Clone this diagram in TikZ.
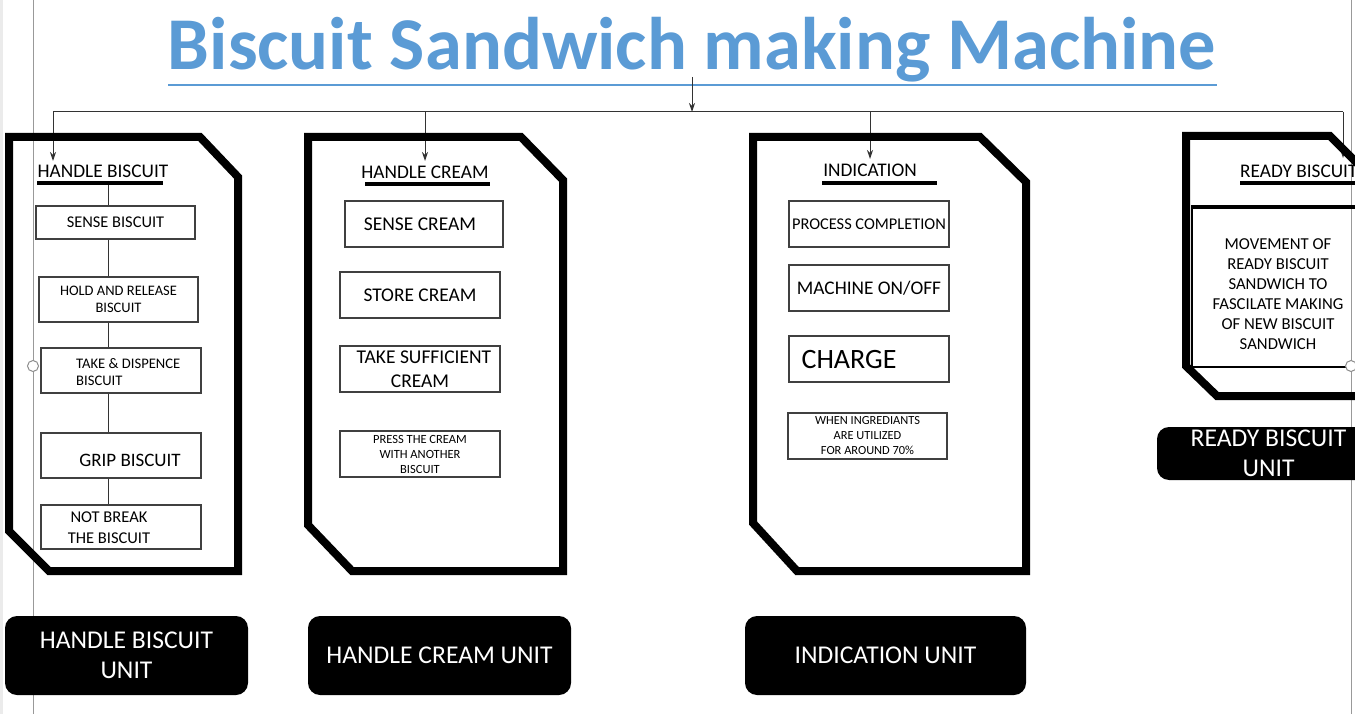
\documentclass[tikz,border=0pt]{standalone}
\usepackage{fontspec}
\setmainfont{Carlito}
\usetikzlibrary{arrows.meta}
\definecolor{titleblue}{HTML}{5B9BD5}
\begin{document}
\begin{tikzpicture}[
  x=1pt, y=-1pt,
  frame/.style={line width=8pt, black, line join=miter},
  stepbox/.style={draw=black!75, line width=1.2pt, inner sep=0pt, align=center},
  hdr/.style={font=\fontsize{19.3}{21}\selectfont, inner sep=0pt},
  hdrline/.style={line width=4pt, black},
  unitlbl/.style={fill=black, text=white, rounded corners=12pt, align=center, inner sep=0pt, font=\fontsize{25.6}{30}\selectfont},
  link/.style={black!80, line width=1pt},
  pageline/.style={black!40, line width=0.8pt},
  ttl/.style={font=\fontsize{74.5}{80}\selectfont\bfseries, inner sep=0pt},
  >={Stealth[length=9pt,width=6pt]}
]
\useasboundingbox (0,0) rectangle (1355,714);
\clip (0,0) rectangle (1355,714);

% === Page margins of the screenshot ===
\fill[black!8] (0,0) rectangle (3,714);
\draw[pageline] (33,0) -- (33,714);
\draw[pageline] (1351,0) -- (1351,714);

% === Title ===
\node[ttl, text=titleblue] (title) at (692,50) {Biscuit Sandwich making Machine};
\draw[titleblue, line width=1.5pt] (168,85) -- (1217,85);

% === Bus ===
\coordinate (top) at (692,77);
\coordinate (hub) at (692,112);
\coordinate (bA) at (53,112);
\coordinate (bB) at (425,112);
\coordinate (bC) at (870,112);
\coordinate (bD) at (1343,112);
\coordinate (tA) at (53,161);
\coordinate (tB) at (425,161);
\coordinate (tC) at (870,159);
\coordinate (tD) at (1343,158);
\draw[link, ->] (top) -- (hub);
\draw[link] (bA) -- (bD);
\draw[link, ->] (bA) -- (tA);
\draw[link, ->] (bB) -- (tB);
\draw[link, ->] (bC) -- (tC);
\draw[link, ->] (bD) -- (tD);

% === Frames ===
\draw[frame] (9,137) -- (200,137) -- (238,177) -- (238,571) -- (49,571) -- (9,531) -- cycle;
\draw[frame] (308,137) -- (521,137) -- (563,180) -- (563,571) -- (352,571) -- (308,525) -- cycle;
\draw[frame] (753,137) -- (980,137) -- (1026,182) -- (1026,571) -- (797,571) -- (753,523) -- cycle;
\draw[frame] (1186,136) -- (1330,136) -- (1372,178) -- (1372,396) -- (1217,396) -- (1186,366) -- cycle;

% === Handle biscuit ===
\node[hdr] (hb) at (103,171) {HANDLE BISCUIT};
\draw[hdrline] (37,183) -- (163,183);
\coordinate (hbl) at (108,185);
\node[stepbox, minimum width=159, minimum height=33, font=\fontsize{16.4}{18}\selectfont] (s1) at (115.5,222.5) {SENSE BISCUIT};
\node[stepbox, minimum width=159, minimum height=45, font=\fontsize{14.5}{17}\selectfont] (s2) at (118.5,299.5) {HOLD AND RELEASE\\BISCUIT};
\node[stepbox, minimum width=160, minimum height=45] (s3) at (121,370.5) {};
\node[anchor=west, align=left, inner sep=0pt, font=\fontsize{14.6}{17}\selectfont] (s3txt) at (76,372) {TAKE \& DISPENCE\\BISCUIT};
\node[stepbox, minimum width=160, minimum height=45] (s4) at (121,455.5) {};
\node[inner sep=0pt, font=\fontsize{19}{21}\selectfont] (s4txt) at (130,460) {GRIP BISCUIT};
\node[stepbox, minimum width=160, minimum height=44] (s5) at (121,527) {};
\node[inner sep=0pt, align=center, font=\fontsize{16.5}{21}\selectfont] (s5txt) at (109,528) {NOT BREAK\\THE BISCUIT};
\draw[link] (hbl) -- (hbl |- s1.north);
\draw[link] (s1.south -| hbl) -- (s2.north -| hbl);
\draw[link] (s2.south -| hbl) -- (s3.north -| hbl);
\draw[link] (s3.south -| hbl) -- (s4.north -| hbl);
\draw[link] (s4.south -| hbl) -- (s5.north -| hbl);

% === Handle cream ===
\node[hdr] (hc) at (425,172) {HANDLE CREAM};
\draw[hdrline] (365,184) -- (490,184);
\node[stepbox, minimum width=158, minimum height=46, font=\fontsize{19.5}{21}\selectfont] (c1) at (424,224) {SENSE CREAM\hspace*{8pt}};
\node[stepbox, minimum width=160, minimum height=46, font=\fontsize{19.4}{21}\selectfont] (c2) at (420,295) {STORE CREAM};
\node[stepbox, minimum width=160, minimum height=46, font=\fontsize{19.5}{24}\selectfont] (c3) at (420,369) {\hspace*{8pt}TAKE SUFFICIENT\\CREAM};
\node[stepbox, minimum width=160, minimum height=46, font=\fontsize{12.5}{15}\selectfont] (c4) at (420,454) {PRESS THE CREAM\\WITH ANOTHER\\BISCUIT};

% === Indication ===
\node[hdr] (hi) at (870,170) {INDICATION};
\draw[hdrline] (822,183) -- (937,183);
\node[stepbox, minimum width=160, minimum height=46, font=\fontsize{16.4}{18}\selectfont] (i1) at (869,224) {PROCESS COMPLETION};
\node[stepbox, minimum width=160, minimum height=46, font=\fontsize{19.3}{21}\selectfont] (i2) at (869,288) {MACHINE ON/OFF};
\node[stepbox, minimum width=160, minimum height=46] (i3) at (869,359) {};
\node[inner sep=0pt, font=\fontsize{28}{30}\selectfont] (i3txt) at (849,360) {CHARGE};
\node[stepbox, minimum width=159, minimum height=46, font=\fontsize{12.4}{15}\selectfont] (i4) at (867.5,436) {WHEN INGREDIANTS\\ARE UTILIZED\\FOR AROUND 70\%};

% === Ready biscuit ===
\node[hdr, anchor=west] (hr) at (1240,171) {READY BISCUIT};
\draw[hdrline] (1240,183) -- (1360,183);
\node[stepbox, draw=black, line width=2pt, minimum width=180, minimum height=159] (r1) at (1282,287.5) {};
\node[inner sep=0pt, align=center, font=\fontsize{16.7}{20}\selectfont] (r1txt) at (1278,294) {MOVEMENT OF\\READY BISCUIT\\SANDWICH TO\\FASCILATE MAKING\\OF NEW BISCUIT\\SANDWICH};
\draw[line width=4pt] (r1.north west) -- (r1.north east);

% === Unit labels ===
\node[unitlbl, minimum width=243, minimum height=79] (u1) at (126.5,655.5) {HANDLE BISCUIT\\UNIT};
\node[unitlbl, minimum width=263, minimum height=79] (u2) at (439.5,655.5) {HANDLE CREAM UNIT};
\node[unitlbl, minimum width=281, minimum height=79] (u3) at (885.5,655.5) {INDICATION UNIT};
\node[unitlbl, minimum width=223, minimum height=53] (u4) at (1268.5,453.5) {READY BISCUIT\\UNIT};

% === Selection handles ===
\draw[black!45, fill=white, line width=1pt] (33,366) circle (5.5);
\draw[black!45, fill=white, line width=1pt] (1351,366) circle (5.5);
\end{tikzpicture}
\end{document}
